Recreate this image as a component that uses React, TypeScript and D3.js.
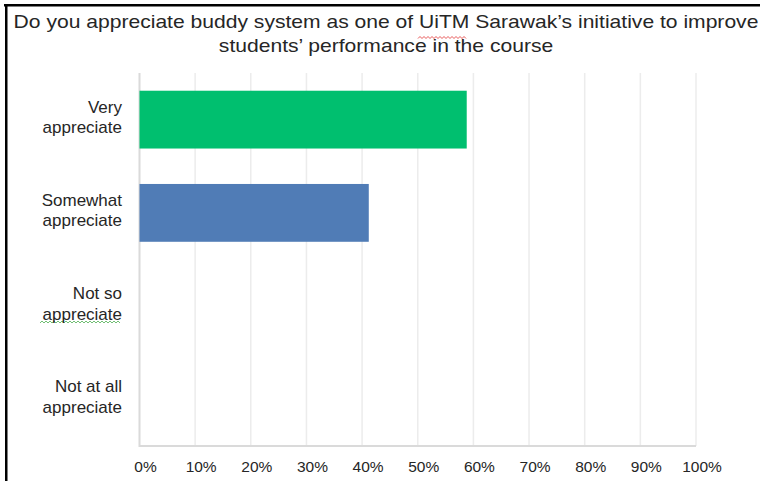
import React from "react";
import * as d3 from "d3";

const titleLines = [
  "Do you appreciate buddy system as one of UiTM Sarawak\u2019s initiative to improve",
  "students\u2019 performance in the course",
];
const categories = ["Very appreciate", "Somewhat appreciate", "Not so appreciate", "Not at all appreciate"];
const categoryLines = [
  ["Very", "appreciate"],
  ["Somewhat", "appreciate"],
  ["Not so", "appreciate"],
  ["Not at all", "appreciate"],
];
const values = [0.588, 0.412, 0, 0];
const barColors = ["#00bf6f", "#507cb6", "#507cb6", "#507cb6"];
const ticks = [0, 0.1, 0.2, 0.3, 0.4, 0.5, 0.6, 0.7, 0.8, 0.9, 1.0];

const W = 760;
const H = 481;
const plot = { left: 139.5, right: 696, top: 73, bottom: 446 };

function squiggle(x0: number, x1: number, y: number) {
  const pts = d3.range(x0, x1 + 0.01, 2).map((px, i) => [px, y + (i % 2 === 0 ? 1 : -1)] as [number, number]);
  return d3.line()(pts) || "";
}

export default function App() {
  const x = d3.scaleLinear().domain([0, 1]).range([plot.left, plot.right]);
  const y = d3
    .scaleBand<string>()
    .domain(categories)
    .range([plot.top, plot.bottom])
    .paddingInner(0.38)
    .paddingOuter(0.19);
  const fmt = d3.format(".0%");
  const font = "'Liberation Sans', Arial, sans-serif";

  return (
    <div style={{ position: "fixed", left: 0, top: 0 }}>
      <svg width={W} height={H} style={{ display: "block", background: "#fff" }}>
        {/* frame */}
        <line x1={4} x2={W} y1={5.25} y2={5.25} stroke="#000" strokeWidth={2.5} />
        <line x1={6.25} x2={6.25} y1={4} y2={H} stroke="#000" strokeWidth={2.5} />

        {/* title (horizontally stretched as in the source image) */}
        <g transform="translate(386,0) scale(1.172,1)">
          {titleLines.map((t, i) => (
            <text
              key={i}
              x={0}
              y={28 + i * 24}
              textAnchor="middle"
              fontFamily={font}
              fontSize={18}
              fill="#262626"
            >
              {t}
            </text>
          ))}
        </g>
        {/* spell-check marks present in the source image */}
        <path d={squiggle(418, 466, 37.5)} fill="none" stroke="#e03030" strokeWidth={0.8} />
        <path d={squiggle(40, 120, 322)} fill="none" stroke="#4caf50" strokeWidth={0.8} />

        {/* gridlines */}
        {ticks.slice(1).map((t) => (
          <line
            key={t}
            x1={x(t)}
            x2={x(t)}
            y1={plot.top}
            y2={plot.bottom}
            stroke="#ececec"
            strokeWidth={1.5}
          />
        ))}
        {/* axes frame */}
        <path
          d={`M${plot.left},${plot.top}V${plot.bottom}H${plot.right}`}
          fill="none"
          stroke="#dadada"
          strokeWidth={2}
        />

        {/* bars */}
        {categories.map((c, i) =>
          values[i] > 0 ? (
            <rect
              key={c}
              x={x(0)}
              y={y(c)!}
              width={x(values[i]) - x(0)}
              height={y.bandwidth()}
              fill={barColors[i]}
            />
          ) : null
        )}

        {/* category labels */}
        {categories.map((c, i) => {
          const cy = y(c)! + y.bandwidth() / 2;
          return (
            <text key={c} textAnchor="end" fontFamily={font} fontSize={17} fill="#262626">
              {categoryLines[i].map((l, j) => (
                <tspan key={j} x={122} y={cy - 7 + j * 20.5}>
                  {l}
                </tspan>
              ))}
            </text>
          );
        })}

        {/* tick labels */}
        {ticks.map((t) => (
          <text
            key={t}
            x={x(t) + 6}
            y={472}
            textAnchor="middle"
            fontFamily={font}
            fontSize={15.5}
            fill="#262626"
          >
            {fmt(t)}
          </text>
        ))}
      </svg>
    </div>
  );
}
